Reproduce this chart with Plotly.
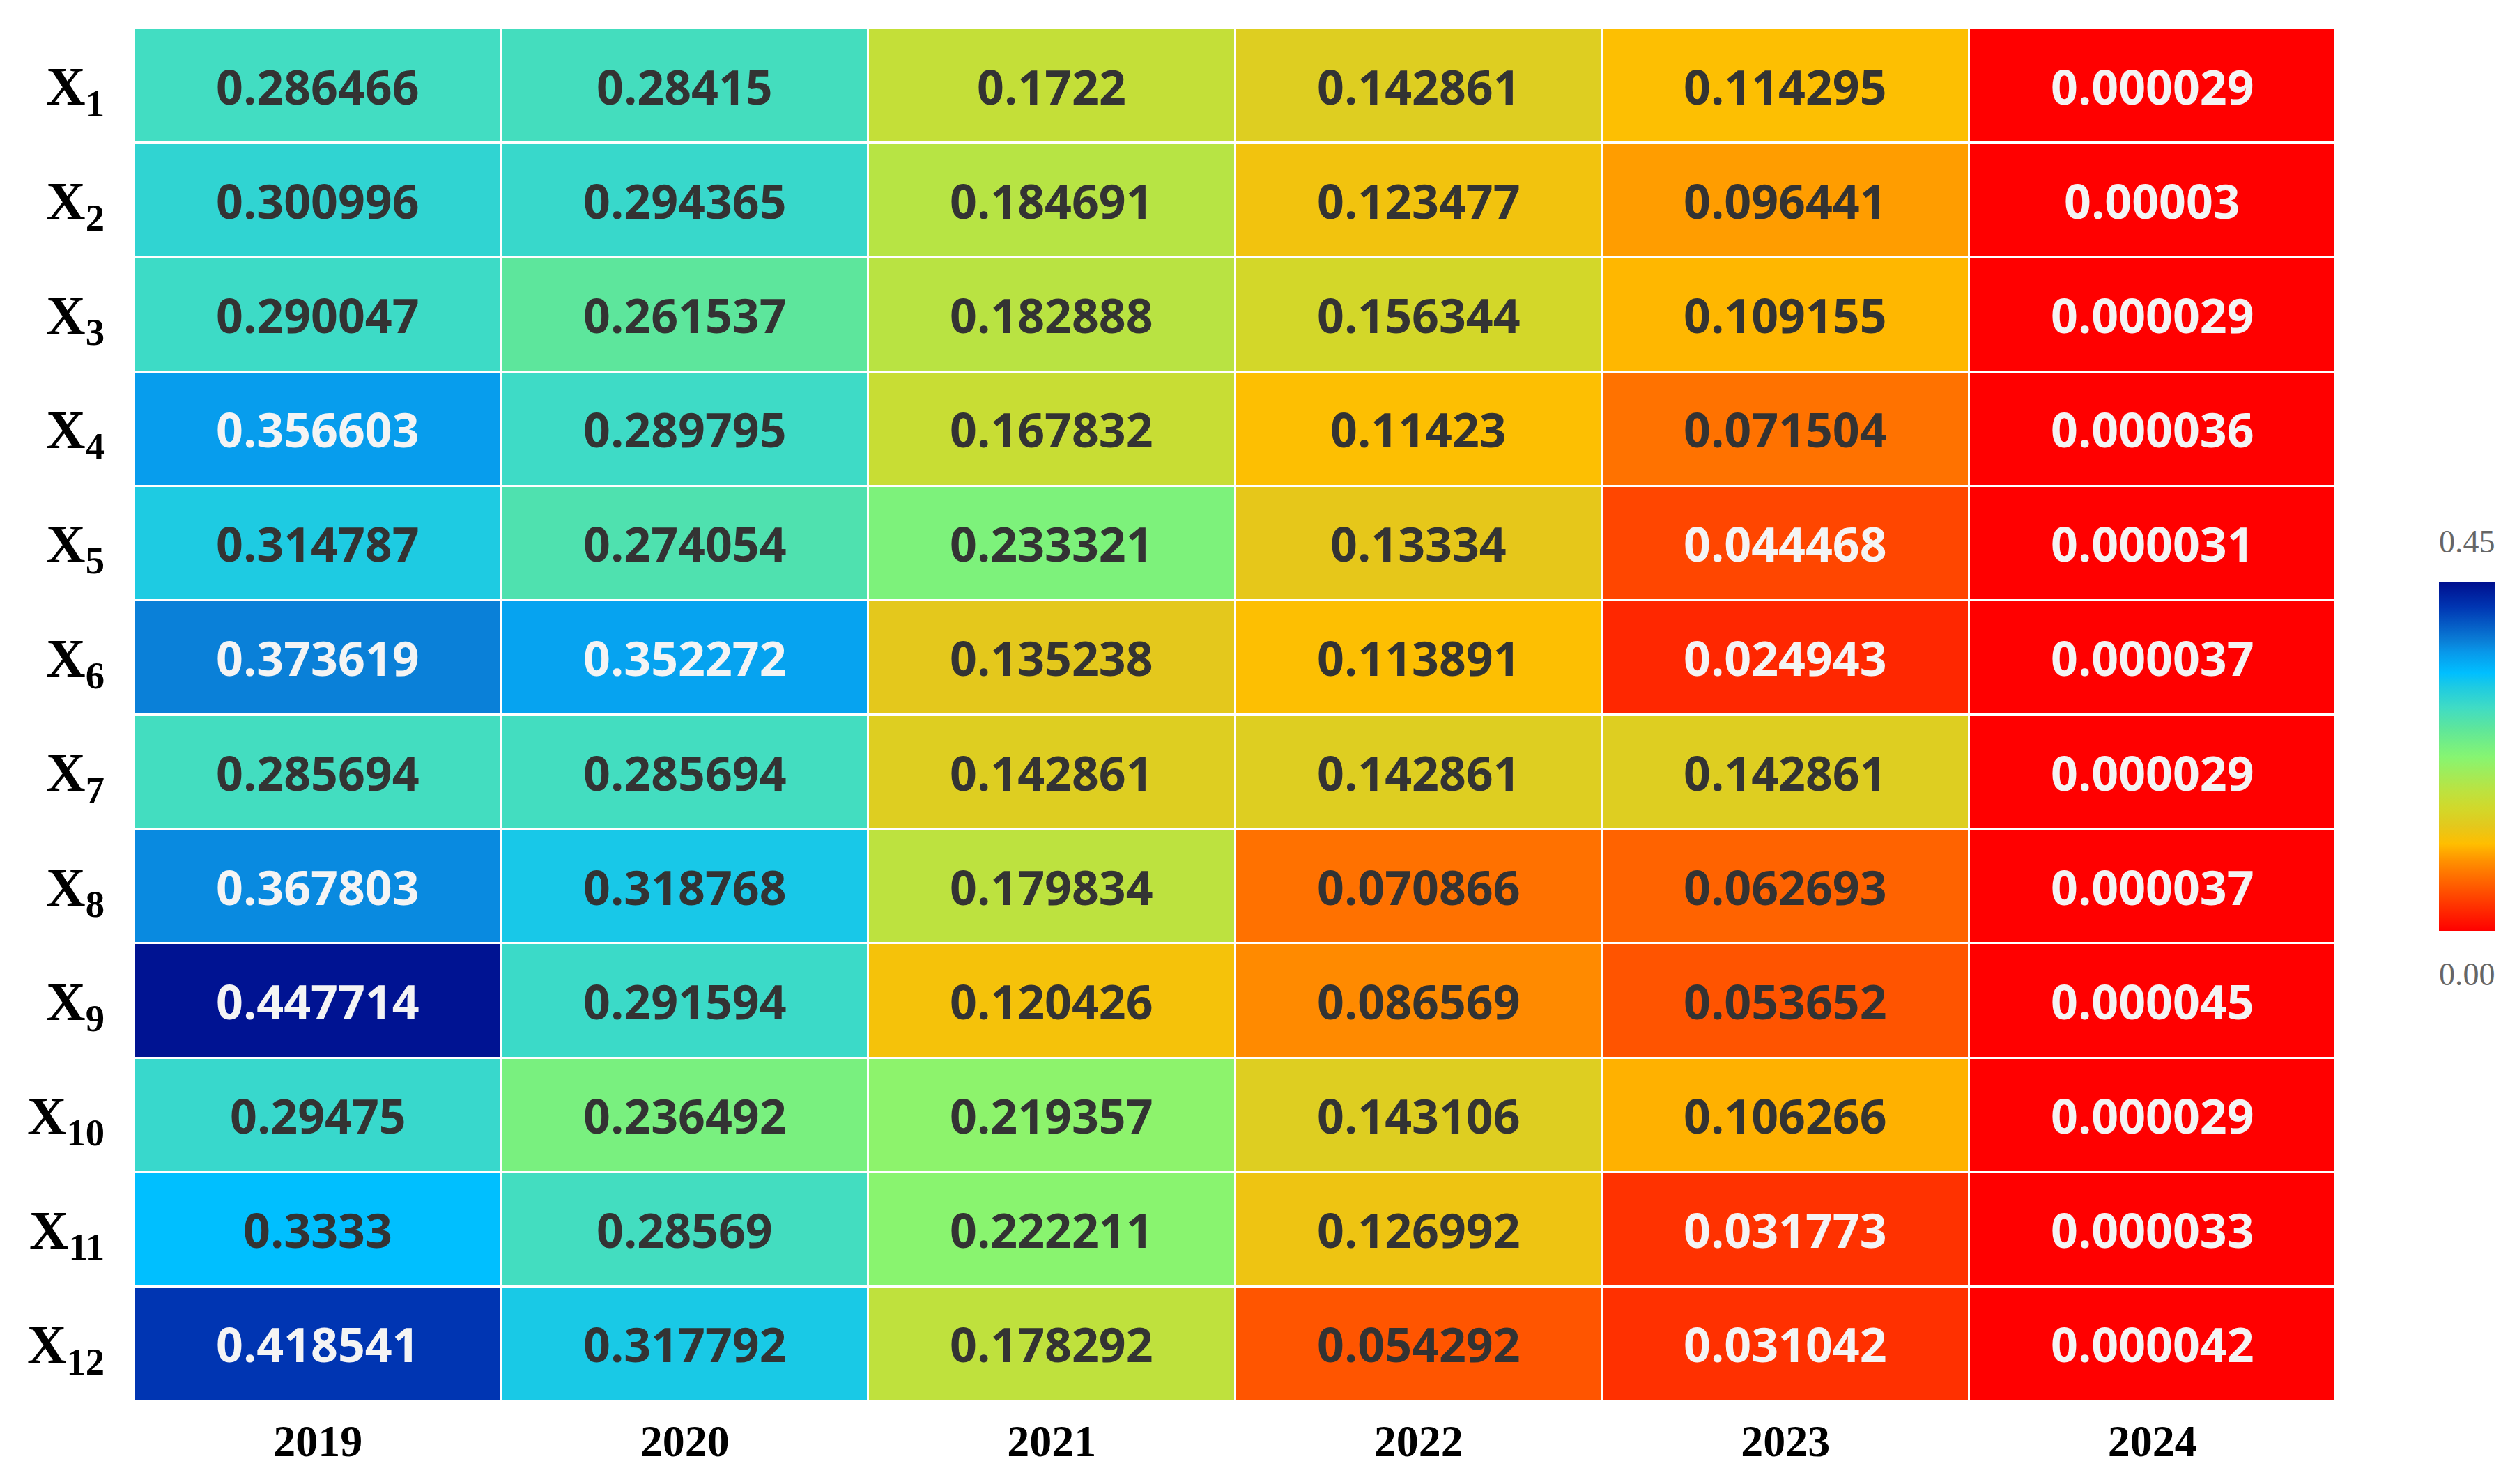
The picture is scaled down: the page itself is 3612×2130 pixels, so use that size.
import plotly.graph_objects as go

years = ["2019", "2020", "2021", "2022", "2023", "2024"]
rows = ["X<sub>%d</sub>" % i for i in range(1, 13)]

v2019 = [0.286466, 0.300996, 0.290047, 0.356603, 0.314787, 0.373619,
         0.285694, 0.367803, 0.447714, 0.29475, 0.3333, 0.418541]
v2020 = [0.28415, 0.294365, 0.261537, 0.289795, 0.274054, 0.352272,
         0.285694, 0.318768, 0.291594, 0.236492, 0.28569, 0.317792]
v2021 = [0.1722, 0.184691, 0.182888, 0.167832, 0.233321, 0.135238,
         0.142861, 0.179834, 0.120426, 0.219357, 0.222211, 0.178292]
v2022 = [0.142861, 0.123477, 0.156344, 0.11423, 0.13334, 0.113891,
         0.142861, 0.070866, 0.086569, 0.143106, 0.126992, 0.054292]
v2023 = [0.114295, 0.096441, 0.109155, 0.071504, 0.044468, 0.024943,
         0.142861, 0.062693, 0.053652, 0.106266, 0.031773, 0.031042]
v2024 = [0.000029, 0.00003, 0.000029, 0.000036, 0.000031, 0.000037,
         0.000029, 0.000037, 0.000045, 0.000029, 0.000033, 0.000042]

cols = [v2019, v2020, v2021, v2022, v2023, v2024]
# heatmap wants z[row][col]
z = [[c[r] for c in cols] for r in range(len(rows))]

# reversed jet-like scale
cscale = [
    [0.00, "#FF0000"], [0.06, "#FF2A00"], [0.12, "#FF5500"],
    [0.20, "#FF9000"], [0.25, "#FFBE00"], [0.30, "#E4C81C"],
    [0.35, "#D2D82A"], [0.40, "#BDE23F"], [0.50, "#86F572"],
    [0.58, "#5EE69B"], [0.64, "#40DCC4"], [0.70, "#1ECBE2"],
    [0.74, "#00BFFF"], [0.80, "#0898EA"], [0.83, "#0A80D8"],
    [0.93, "#0035B2"], [1.00, "#00108F"],
]

fig = go.Figure(go.Heatmap(
    z=z, x=years, y=rows,
    zmin=0, zmax=0.45,
    colorscale=cscale,
    xgap=3, ygap=3,
    hoverinfo="skip",
    colorbar=dict(
        thickness=80, len=0.254, lenmode="fraction",
        x=1.047, xanchor="left", y=0.4695, yanchor="middle",
        xpad=0, ypad=0,
        outlinewidth=0, showticklabels=False, ticks="",
    ),
))

# cell labels; category axes take the category index as position
for r in range(len(rows)):
    for c in range(len(years)):
        v = z[r][c]
        txt = f"{v:.6f}".rstrip("0")
        color = "#F4F4F4" if (v > 0.35 or v < 0.05) else "#333333"
        fig.add_annotation(
            x=c, y=r, text="<b>%s</b>" % txt,
            showarrow=False,
            font=dict(family="Open Sans", size=68, color=color),
        )

# colour bar end labels sit above / below the bar
fig.add_annotation(xref="paper", yref="paper", x=1.0598, y=0.626, text="0.45",
                   showarrow=False, xanchor="center", yanchor="middle",
                   font=dict(family="Liberation Serif", size=46, color="#666666"))
fig.add_annotation(xref="paper", yref="paper", x=1.0598, y=0.311, text="0.00",
                   showarrow=False, xanchor="center", yanchor="middle",
                   font=dict(family="Liberation Serif", size=46, color="#666666"))

fig.update_xaxes(
    type="category",
    showgrid=False, zeroline=False, showline=False, ticks="",
    tickfont=dict(family="Liberation Serif", size=64, color="black"),
    tickprefix="<b>", ticksuffix="</b>",
    ticklabelstandoff=14,
)
fig.update_yaxes(
    type="category", autorange="reversed",
    showgrid=False, zeroline=False, showline=False, ticks="",
    tickfont=dict(family="Liberation Serif", size=78, color="black"),
    tickprefix="<b>", ticksuffix="</b>",
    ticklabelstandoff=42,
)

# page body adds 8px, so margins are trimmed on the left/top
fig.update_layout(
    width=3612, height=2130,
    margin=dict(l=185, r=268, t=33, b=127),
    plot_bgcolor="white", paper_bgcolor="white",
)

fig.write_html("out.html")
